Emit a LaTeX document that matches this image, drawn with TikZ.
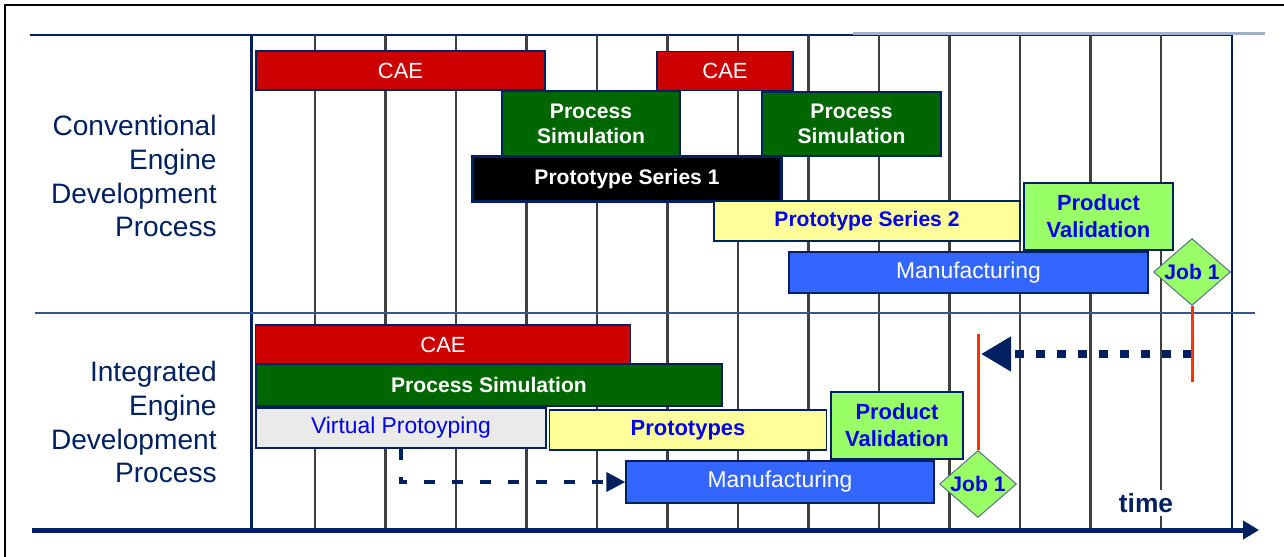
\documentclass[tikz,border=0pt]{standalone}
\usepackage{fontspec}
\setmainfont{Liberation Sans}
\usetikzlibrary{shapes.geometric}
\usetikzlibrary{arrows.meta}
\definecolor{navy}{RGB}{0,32,96}
\definecolor{midrule}{RGB}{58,85,140}
\definecolor{toprule}{RGB}{160,176,204}
\definecolor{caered}{RGB}{204,0,0}
\definecolor{simgreen}{RGB}{0,102,0}
\definecolor{protoyellow}{RGB}{255,255,153}
\definecolor{valgreen}{RGB}{153,255,102}
\definecolor{mfblue}{RGB}{51,102,255}
\definecolor{vpgray}{RGB}{234,234,234}
\definecolor{txtblue}{RGB}{0,0,235}
\definecolor{jobred}{RGB}{255,51,0}
\tikzset{bar/.style={draw=navy,line width=0.03cm,inner sep=0pt,align=center,font=\fontsize{12.5}{14.2}\selectfont}}
\tikzset{boldbar/.style={bar,font=\bfseries\fontsize{12}{14.2}\selectfont}}
\tikzset{lbl/.style={align=right,text=navy,inner sep=0pt,font=\fontsize{16}{19.3}\selectfont}}
\tikzset{gridln/.style={draw=black!75,line width=0.05cm}}
\tikzset{job/.style={diamond,shape aspect=1.15,fill=valgreen,draw={rgb,255:red,90;green,110;blue,140},line width=0.02cm,inner sep=0pt,text=txtblue,font=\bfseries\fontsize{12}{14}\selectfont,minimum width=1.54cm,minimum height=1.34cm}}
\tikzset{jobline/.style={draw=jobred,line width=0.06cm}}

\begin{document}
\begin{tikzpicture}[x=0.02cm,y=-0.02cm]
      \useasboundingbox (0,0) rectangle (1284,557);
      % frame and rules
      \draw[line width=0.05cm] (5,557) -- (5,5) -- (1284,5);
      \draw[navy,line width=0.03cm] (30,35) -- (1232,35);
      \draw[toprule,line width=0.05cm] (853,33.5) -- (1265,33.5);
      \foreach \i in {0,...,12}
        \draw[gridln] ({315+70.5*\i},35) -- ({315+70.5*\i},530);
      \draw[navy,line width=0.06cm] (251,35) -- (251,530);
      \draw[navy,line width=0.04cm] (1231.5,35) -- (1231.5,530);
      \draw[midrule,line width=0.05cm] (35,313) -- (1255,313);

      % time axis
      \coordinate (ax0) at (32,530);
      \coordinate (ax1) at (1259,530);
      \draw[navy,line width=0.1cm,-{Triangle[length=0.32cm,width=0.36cm]}] (ax0) -- (ax1);
      \node[text=navy,fill=white,inner sep=2pt,font=\bfseries\fontsize{15}{18}\selectfont] (time) at (1146,503) {time};

      % row labels
      \node[lbl,anchor=east] (conv) at (217,176) {Conventional\\Engine\\Development\\Process};
      \node[lbl,anchor=east] (integ) at (217,422) {Integrated\\Engine\\Development\\Process};

      % conventional process
      \node[bar,fill=caered,text=white,minimum width=5.78cm,minimum height=0.78cm] (cae1) at (400.5,70.5) {CAE};
      \node[bar,fill=caered,text=white,minimum width=2.72cm,minimum height=0.78cm] (cae2) at (725,71) {CAE};
      \node[boldbar,fill=simgreen,text=white,minimum width=3.56cm,minimum height=1.3cm] (sim1) at (591,123.5) {Process\\Simulation};
      \node[boldbar,fill=simgreen,text=white,minimum width=3.58cm,minimum height=1.28cm] (sim2) at (851.5,124) {Process\\Simulation};
      \node[boldbar,fill=black,text=white,line width=0.06cm,minimum width=6.2cm,minimum height=0.92cm] (ser1) at (627,179) {Prototype Series 1};
      \node[boldbar,fill=protoyellow,text=txtblue,minimum width=6.12cm,minimum height=0.8cm] (ser2) at (867,221) {Prototype Series 2};
      \node[boldbar,fill=valgreen,text=txtblue,minimum width=2.98cm,minimum height=1.34cm,font=\bfseries\fontsize{12.5}{15.3}\selectfont] (val1) at (1098.5,216.5) {Product\\Validation};
      \node[bar,fill=mfblue,text=white,minimum width=7.18cm,minimum height=0.82cm,font=\fontsize{13}{15}\selectfont] (man1) at (968.5,272.5) {Manufacturing};
      \node[job] (job1) at (1192,272) {Job 1};

      % integrated process
      \node[bar,fill=caered,text=white,minimum width=7.5cm,minimum height=0.78cm] (cae3) at (443,344.5) {CAE};
      \node[boldbar,fill=simgreen,text=white,minimum width=9.32cm,minimum height=0.84cm] (sim3) at (489,385) {Process Simulation};
      \node[bar,fill=vpgray,text=txtblue,minimum width=5.8cm,minimum height=0.8cm,font=\fontsize{13}{15}\selectfont] (vp) at (401,428) {Virtual Protoyping};
      \node[boldbar,fill=protoyellow,text=txtblue,minimum width=5.54cm,minimum height=0.8cm,font=\bfseries\fontsize{12.5}{15}\selectfont] (protos) at (688,430) {Prototypes};
      \node[boldbar,fill=valgreen,text=txtblue,minimum width=2.64cm,minimum height=1.34cm,font=\bfseries\fontsize{12.5}{15.3}\selectfont] (val2) at (897,425.5) {Product\\Validation};
      \node[bar,fill=mfblue,text=white,minimum width=6.16cm,minimum height=0.84cm,font=\fontsize{13}{15}\selectfont] (man2) at (780,482) {Manufacturing};
      \node[job] (job2) at (978,484) {Job 1};

      % arrows
      \draw[navy,line width=0.08cm,dash pattern=on 0.22cm off 0.34cm,-{Triangle[length=0.38cm,width=0.38cm]}] (vp.south) |- (man2.west);
      \coordinate (dotS) at (1192,354);
      \coordinate (dotE) at (981,354);
      \draw[navy,line width=0.16cm,dash pattern=on 0.18cm off 0.24cm,-{Triangle[length=0.6cm,width=0.66cm]}] (dotS) -- (dotE);
      \coordinate (jl1) at (1192,382);
      \coordinate (jl2) at (978,334);
      \draw[jobline] (job1.south) -- (jl1);
      \draw[jobline] (jl2) -- (job2.north);
\end{tikzpicture}
\end{document}
